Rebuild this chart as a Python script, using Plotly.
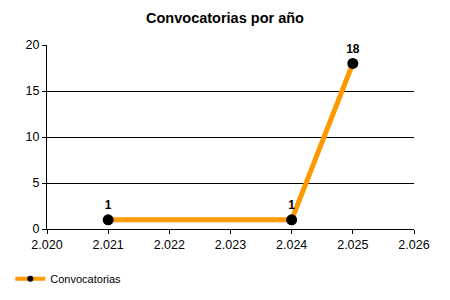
import plotly.graph_objects as go

years = [2021, 2024, 2025]
values = [1, 1, 18]
x_ticks = [2020, 2021, 2022, 2023, 2024, 2025, 2026]
x_tick_labels = ["2.020", "2.021", "2.022", "2.023", "2.024", "2.025", "2.026"]
y_ticks = [0, 5, 10, 15, 20]

fig = go.Figure()
fig.add_trace(go.Scatter(
    x=years, y=values, mode="lines+markers+text", name="Convocatorias",
    line=dict(color="#FF9900", width=5),
    marker=dict(color="black", size=11),
    text=[str(v) for v in values], textposition="top center",
    textfont=dict(family="Liberation Sans, Arial", size=12, color="black", weight="bold"),
    cliponaxis=False, showlegend=False,
))
# legend-only entry (smaller marker, as in the reference legend)
fig.add_trace(go.Scatter(
    x=[None], y=[None], mode="lines+markers", name="Convocatorias",
    line=dict(color="#FF9900", width=4),
    marker=dict(color="black", size=6),
    showlegend=True,
))

fig.update_layout(
    width=450, height=300,
    margin=dict(l=47, r=36, t=45, b=71, autoexpand=False),
    paper_bgcolor="white", plot_bgcolor="white",
    font=dict(family="Liberation Sans, Arial", size=12.5, color="black"),
    title=dict(text="<b>Convocatorias por año</b>", x=0.5, xanchor="center",
               y=1 - 18/300, yanchor="middle", font=dict(size=14.5)),
    showlegend=True,
    legend=dict(orientation="h", x=-0.1, xanchor="left", y=-0.27, yanchor="middle",
                font=dict(size=11), bgcolor="rgba(0,0,0,0)", itemwidth=30),
    xaxis=dict(range=[2020, 2026], tickvals=x_ticks, ticktext=x_tick_labels,
               showgrid=False, zeroline=False, showline=True, linecolor="black", linewidth=1,
               ticks="outside", ticklen=4, tickcolor="black"),
    yaxis=dict(range=[0, 20], tickvals=y_ticks, showgrid=True, gridcolor="black", gridwidth=1,
               zeroline=False, showline=True, linecolor="black", linewidth=1,
               ticks="outside", ticklen=4, tickcolor="black"),
)

fig.write_html("out.html")
